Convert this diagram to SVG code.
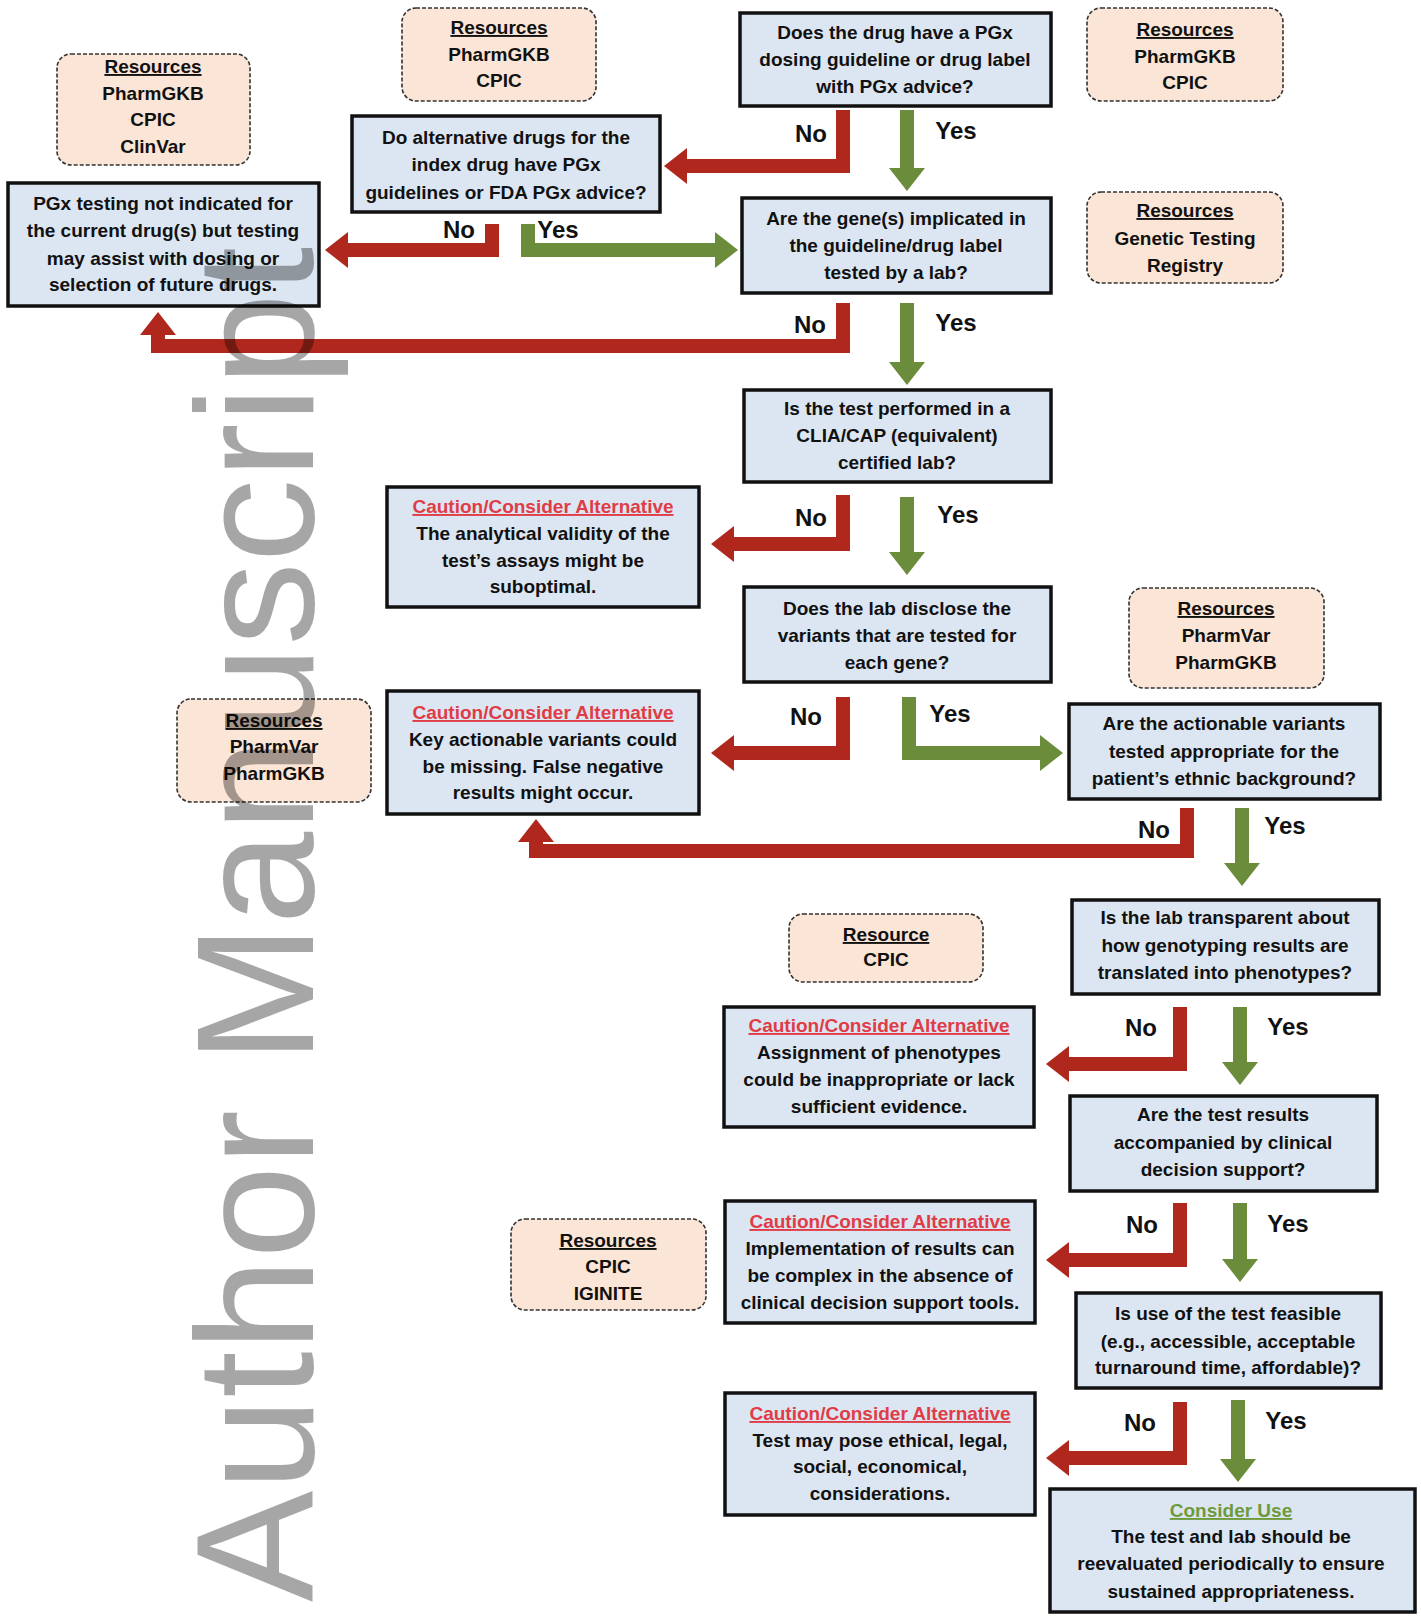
<svg xmlns="http://www.w3.org/2000/svg" width="1421" height="1616" viewBox="0 0 1421 1616">
<defs>
<style>
text{font-family:"Liberation Sans",Arial,sans-serif;font-weight:bold;font-size:19px;fill:#111;text-anchor:middle}
.box{fill:#dce6f2;stroke:#111;stroke-width:3.5}
.res{fill:#fbe5d6;stroke:#333;stroke-width:1.6;stroke-dasharray:4 2}
.u{text-decoration:underline}
.hd{fill:#e03c46;text-decoration:underline}
.ok{fill:#6f9a3c;text-decoration:underline}
.lbl{font-size:24px}
.r{fill:none;stroke:#b0281d;stroke-width:14;stroke-linejoin:miter;marker-end:url(#ahR)}
.g{fill:none;stroke:#6b8c3a;stroke-width:14;stroke-linejoin:miter;marker-end:url(#ahG)}
.wm{font-weight:normal;font-size:167px;fill:#000;fill-opacity:0.35;text-anchor:start}
</style>
<marker id="ahR" markerUnits="userSpaceOnUse" markerWidth="23" markerHeight="36" viewBox="0 0 23 36" refX="1" refY="18" orient="auto"><path d="M0,0 L23,18 L0,36 z" fill="#b0281d"/></marker>
<marker id="ahG" markerUnits="userSpaceOnUse" markerWidth="23" markerHeight="36" viewBox="0 0 23 36" refX="1" refY="18" orient="auto"><path d="M0,0 L23,18 L0,36 z" fill="#6b8c3a"/></marker>
</defs>
<rect width="1421" height="1616" fill="#fff"/>

<g id="connectors">
<path class="r" d="M843,110 V166 H686"/><text class="lbl" x="811" y="142">No</text>
<path class="g" d="M907,110 V169"/><text class="lbl" x="956" y="139">Yes</text>
<path class="r" d="M492,224 V250 H347"/><text class="lbl" x="459" y="238">No</text>
<path class="g" d="M528,224 V250 H716"/><text class="lbl" x="558" y="238">Yes</text>
<path class="r" d="M843,303 V346 H158 V334"/><text class="lbl" x="810" y="333">No</text>
<path class="g" d="M907,303 V363"/><text class="lbl" x="956" y="331">Yes</text>
<path class="r" d="M843,495 V544 H733"/><text class="lbl" x="811" y="526">No</text>
<path class="g" d="M907,497 V553"/><text class="lbl" x="958" y="523">Yes</text>
<path class="r" d="M843,697 V753 H733"/><text class="lbl" x="806" y="725">No</text>
<path class="g" d="M909,697 V753 H1041"/><text class="lbl" x="950" y="722">Yes</text>
<path class="r" d="M1187,808 V851 H536 V841"/><text class="lbl" x="1154" y="838">No</text>
<path class="g" d="M1242,808 V864"/><text class="lbl" x="1285" y="834">Yes</text>
<path class="r" d="M1180,1007 V1064 H1068"/><text class="lbl" x="1141" y="1036">No</text>
<path class="g" d="M1240,1007 V1063"/><text class="lbl" x="1288" y="1035">Yes</text>
<path class="r" d="M1180,1203 V1260 H1068"/><text class="lbl" x="1142" y="1233">No</text>
<path class="g" d="M1240,1203 V1260"/><text class="lbl" x="1288" y="1232">Yes</text>
<path class="r" d="M1180,1402 V1458 H1068"/><text class="lbl" x="1140" y="1431">No</text>
<path class="g" d="M1238,1400 V1460"/><text class="lbl" x="1286" y="1429">Yes</text>
</g>

<g id="res1"><rect class="res" x="57" y="54" width="193" height="111" rx="14"/>
<text class="u" x="153" y="73">Resources</text><text x="153" y="100">PharmGKB</text><text x="153" y="126">CPIC</text><text x="153" y="153">ClinVar</text></g>

<g id="res2"><rect class="res" x="402" y="8" width="194" height="93" rx="14"/>
<text class="u" x="499" y="34">Resources</text><text x="499" y="61">PharmGKB</text><text x="499" y="87">CPIC</text></g>

<g id="q1"><rect class="box" x="740" y="13" width="311" height="93"/>
<text x="895" y="39">Does the drug have a PGx</text><text x="895" y="66">dosing guideline or drug label</text><text x="895" y="93">with PGx advice?</text></g>

<g id="res3"><rect class="res" x="1087" y="8" width="196" height="93" rx="14"/>
<text class="u" x="1185" y="36">Resources</text><text x="1185" y="63">PharmGKB</text><text x="1185" y="89">CPIC</text></g>

<g id="alt"><rect class="box" x="352" y="116" width="308" height="96"/>
<text x="506" y="144">Do alternative drugs for the</text><text x="506" y="171">index drug have PGx</text><text x="506" y="199">guidelines or FDA PGx advice?</text></g>

<g id="notind"><rect class="box" x="8" y="183" width="311" height="123"/>
<text x="163" y="210">PGx testing not indicated for</text><text x="163" y="237">the current drug(s) but testing</text><text x="163" y="265">may assist with dosing or</text><text x="163" y="291">selection of future drugs.</text></g>

<g id="q2"><rect class="box" x="742" y="198" width="309" height="95"/>
<text x="896" y="225">Are the gene(s) implicated in</text><text x="896" y="252">the guideline/drug label</text><text x="896" y="279">tested by a lab?</text></g>

<g id="res4"><rect class="res" x="1087" y="192" width="196" height="91" rx="14"/>
<text class="u" x="1185" y="217">Resources</text><text x="1185" y="245">Genetic Testing</text><text x="1185" y="272">Registry</text></g>

<g id="q3"><rect class="box" x="744" y="390" width="307" height="92"/>
<text x="897" y="415">Is the test performed in a</text><text x="897" y="442">CLIA/CAP (equivalent)</text><text x="897" y="469">certified lab?</text></g>

<g id="c1"><rect class="box" x="387" y="487" width="312" height="120"/>
<text class="hd" x="543" y="513">Caution/Consider Alternative</text><text x="543" y="540">The analytical validity of the</text><text x="543" y="567">test’s assays might be</text><text x="543" y="593">suboptimal.</text></g>

<g id="q4"><rect class="box" x="744" y="587" width="307" height="95"/>
<text x="897" y="615">Does the lab disclose the</text><text x="897" y="642">variants that are tested for</text><text x="897" y="669">each gene?</text></g>

<g id="res5"><rect class="res" x="1129" y="588" width="195" height="100" rx="14"/>
<text class="u" x="1226" y="615">Resources</text><text x="1226" y="642">PharmVar</text><text x="1226" y="669">PharmGKB</text></g>

<g id="res6"><rect class="res" x="177" y="699" width="194" height="103" rx="14"/>
<text class="u" x="274" y="727">Resources</text><text x="274" y="753">PharmVar</text><text x="274" y="780">PharmGKB</text></g>

<g id="c2"><rect class="box" x="387" y="691" width="312" height="123"/>
<text class="hd" x="543" y="719">Caution/Consider Alternative</text><text x="543" y="746">Key actionable variants could</text><text x="543" y="773">be missing. False negative</text><text x="543" y="799">results might occur.</text></g>

<g id="q5"><rect class="box" x="1069" y="704" width="311" height="95"/>
<text x="1224" y="730">Are the actionable variants</text><text x="1224" y="758">tested appropriate for the</text><text x="1224" y="785">patient’s ethnic background?</text></g>

<g id="q6"><rect class="box" x="1072" y="900" width="307" height="94"/>
<text x="1225" y="924">Is the lab transparent about</text><text x="1225" y="952">how genotyping results are</text><text x="1225" y="979">translated into phenotypes?</text></g>

<g id="res7"><rect class="res" x="789" y="914" width="194" height="68" rx="14"/>
<text class="u" x="886" y="941">Resource</text><text x="886" y="966">CPIC</text></g>

<g id="c3"><rect class="box" x="724" y="1007" width="310" height="120"/>
<text class="hd" x="879" y="1032">Caution/Consider Alternative</text><text x="879" y="1059">Assignment of phenotypes</text><text x="879" y="1086">could be inappropriate or lack</text><text x="879" y="1113">sufficient evidence.</text></g>

<g id="q7"><rect class="box" x="1070" y="1096" width="307" height="95"/>
<text x="1223" y="1121">Are the test results</text><text x="1223" y="1149">accompanied by clinical</text><text x="1223" y="1176">decision support?</text></g>

<g id="res8"><rect class="res" x="511" y="1219" width="195" height="91" rx="14"/>
<text class="u" x="608" y="1247">Resources</text><text x="608" y="1273">CPIC</text><text x="608" y="1300">IGINITE</text></g>

<g id="c4"><rect class="box" x="725" y="1201" width="310" height="122"/>
<text class="hd" x="880" y="1228">Caution/Consider Alternative</text><text x="880" y="1255">Implementation of results can</text><text x="880" y="1282">be complex in the absence of</text><text x="880" y="1309">clinical decision support tools.</text></g>

<g id="q8"><rect class="box" x="1076" y="1293" width="305" height="95"/>
<text x="1228" y="1320">Is use of the test feasible</text><text x="1228" y="1348">(e.g., accessible, acceptable</text><text x="1228" y="1374">turnaround time, affordable)?</text></g>

<g id="c5"><rect class="box" x="725" y="1393" width="310" height="122"/>
<text class="hd" x="880" y="1420">Caution/Consider Alternative</text><text x="880" y="1447">Test may pose ethical, legal,</text><text x="880" y="1473">social, economical,</text><text x="880" y="1500">considerations.</text></g>

<g id="use"><rect class="box" x="1050" y="1489" width="365" height="123"/>
<text class="ok" x="1231" y="1517">Consider Use</text><text x="1231" y="1543">The test and lab should be</text><text x="1231" y="1570">reevaluated periodically to ensure</text><text x="1231" y="1598">sustained appropriateness.</text></g>

<text class="wm" transform="translate(313,1602) rotate(-90)">Author Manuscript</text>
</svg>
